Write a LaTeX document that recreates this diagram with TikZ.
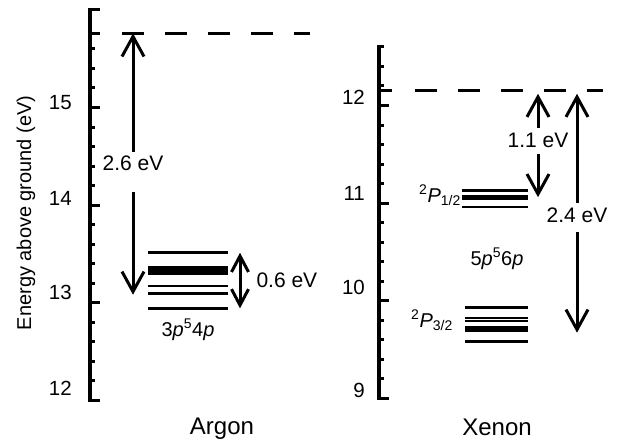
\documentclass[tikz,border=0pt]{standalone}
\usepackage{fontspec}
\setmainfont{Liberation Sans}
\usetikzlibrary{arrows.meta, positioning}

\begin{document}
\begin{tikzpicture}[x=1pt, y=1pt,
    axis/.style={line width=3.5pt, line cap=rect},
    tick/.style={line width=3pt},
    lvl/.style={line width=2.8pt},
    ion/.style={line width=3pt, dash pattern=on 22pt off 21pt},
    arr/.style={line width=3pt, -{Straight Barb[length=20pt, width=22pt]}},
    dbl/.style={line width=3pt, {Straight Barb[length=16pt, width=17pt]}-{Straight Barb[length=16pt, width=17pt]}},
    num/.style={font=\fontsize{20.5}{24}\selectfont, anchor=east, inner sep=0pt},
    gaplbl/.style={font=\fontsize{21}{24}\selectfont, inner xsep=0pt, inner ysep=4pt, anchor=base},
    txt/.style={font=\fontsize{20}{24}\selectfont, inner sep=1pt},
    eVlbl/.style={font=\fontsize{21}{24}\selectfont, inner sep=1pt},
    title/.style={font=\fontsize{24}{28}\selectfont, inner sep=0pt}]
    \useasboundingbox (0,0) rectangle (618,440);

    %argon, 1 eV = 97.5pt
    \begin{scope}[y=97.5pt, yshift=-1130pt]
        %asse y con tacche
        \draw[axis] (90,12) -- (90,16);
        \foreach \e in {12,...,16} \draw[tick] (90,\e) -- ++(10,0);
        \foreach \i in {61,...,78} \draw[tick] (90,\i/5) -- ++(5,0);
        \draw[tick] (90,15.76) -- ++(10,0);
        \foreach \e/\p in {12/12.12, 13/13.10, 14/14.07, 15/15.05}
            \node[num] (ar-n\e) at (72,\p) {\e};
        \node[txt, rotate=90] (ylab) at (26,13.92) {Energy above ground (eV)};
        %limite di ionizzazione
        \draw[ion] (122,15.76) -- (310,15.76);
        %livelli 3p54p
        \foreach \e in {13.51,13.36,13.33,13.30,13.17,13.09,12.94}
            \draw[lvl] (148,\e) -- (228,\e);
        \node[txt] (ar-conf) at (188,12.72) {3\textit{p}\textsuperscript{5}4\textit{p}};
        %freccia 2.6 eV
        \coordinate (ar-ion) at (133,15.76);
        \coordinate (ar-low) at (133,13.08);
        \node[gaplbl, text depth=17pt] (ar-gap) at (133,14.35) {2.6 eV};
        \draw[arr] (ar-gap.north) -- (ar-ion);
        \draw[arr] (ar-gap.south) -- (ar-low);
        %freccia 0.6 eV
        \coordinate (ar-top) at (240,13.51);
        \coordinate (ar-bot) at (240,12.94);
        \draw[dbl] (ar-top) -- node[eVlbl, right=14pt] (ar-span) {0.6 eV} (ar-bot);
        \node[title] (ar-name) at (222,11.71) {Argon};
    \end{scope}

    %xenon
    \begin{scope}[y=97.5pt, yshift=-835.5pt]
        %asse y con tacche
        \draw[axis] (379,9) -- (379,12.6);
        \foreach \e in {9,...,12} \draw[tick] (379,\e) -- ++(10,0);
        \foreach \i in {46,...,63} \draw[tick] (379,\i/5) -- ++(5,0);
        \draw[tick] (379,12.15) -- ++(13,0);
        \foreach \e/\p in {9/9.08, 10/10.13, 11/11.10, 12/12.08}
            \node[num] (xe-n\e) at (365,\p) {\e};
        %limite di ionizzazione
        \draw[ion] (415,12.15) -- (603,12.15);
        %livelli 5p56p
        \foreach \e in {11.13,11.07,11.05,10.96}
            \draw[lvl] (462,\e) -- (528,\e);
        \foreach \e in {9.93,9.82,9.79,9.72,9.69,9.58}
            \draw[lvl] (465,\e) -- (528,\e);
        \node[txt, anchor=east] (xe-hi) at (462,11.08) {\textsuperscript{2}\textit{P}\textsubscript{1/2}};
        \node[txt, anchor=east] (xe-lo) at (454,9.80) {\textsuperscript{2}\textit{P}\textsubscript{3/2}};
        \node[txt] (xe-conf) at (497,10.43) {5\textit{p}\textsuperscript{5}6\textit{p}};
        %freccia 1.1 eV
        \coordinate (xe-ion1) at (538,12.12);
        \coordinate (xe-mid) at (538,11.06);
        \node[gaplbl, text depth=3pt] (xe-gap1) at (538,11.574) {1.1 eV};
        \draw[arr] (xe-gap1.north) -- (xe-ion1);
        \draw[arr] (xe-gap1.south) -- (xe-mid);
        %freccia 2.4 eV
        \coordinate (xe-ion2) at (577,12.12);
        \coordinate (xe-low) at (577,9.67);
        \node[gaplbl, text depth=6pt] (xe-gap2) at (577,10.805) {2.4 eV};
        \draw[arr] (xe-gap2.north) -- (xe-ion2);
        \draw[arr] (xe-gap2.south) -- (xe-low);
        \node[title] (xe-name) at (497,8.70) {Xenon};
    \end{scope}
\end{tikzpicture}
\end{document}
